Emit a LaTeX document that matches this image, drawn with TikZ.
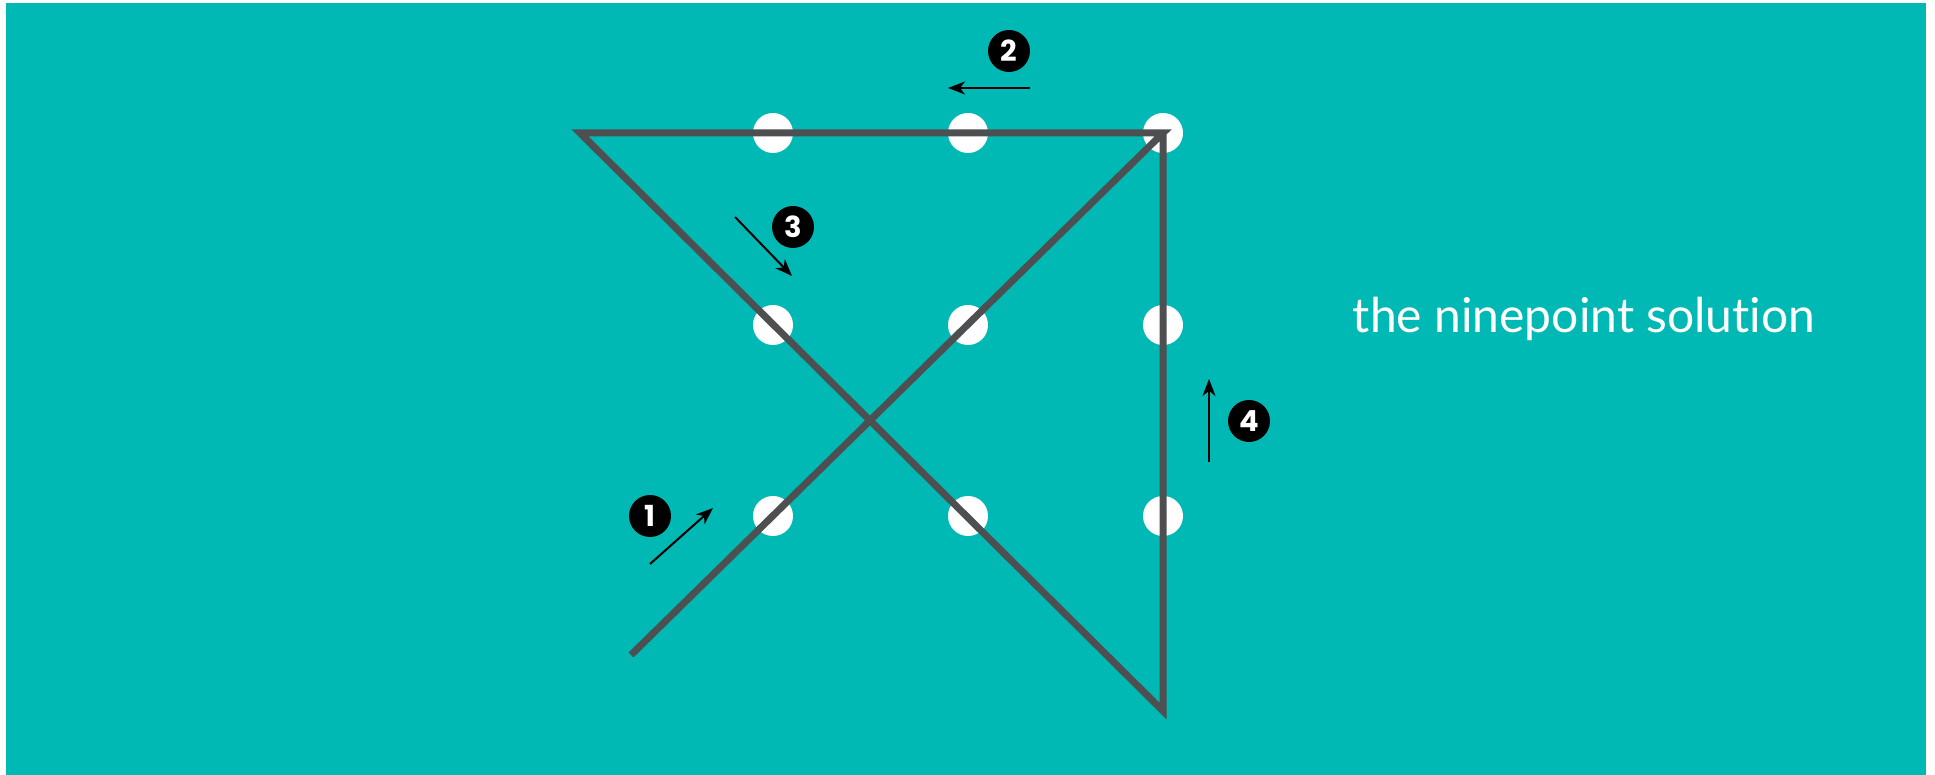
\documentclass[tikz,border=0pt]{standalone}
\usepackage{xcolor}
\usepackage{fontspec}
\setmainfont{Lato}[Ligatures=NoCommon]
\newfontfamily\badgefont{Poppins}
\usepackage{tikz}
\usetikzlibrary{arrows.meta, positioning}

\definecolor{puzzlebg}{RGB}{0,185,180}
\definecolor{pencil}{RGB}{77,79,81}

\begin{document}
\begin{tikzpicture}[x=1pt, y=1pt, node distance=195pt, on grid,
        dot/.style={circle, fill=white, minimum size=40pt, inner sep=0pt},
        badge/.style={circle, fill=black, text=white, minimum size=42pt, inner sep=0pt,
            font=\badgefont\bfseries\fontsize{29}{29}\selectfont},
        hint/.style={-{Stealth[length=17pt, width=13pt, inset=5pt]}, line width=2pt},
        trail/.style={draw=pencil, line width=7pt, line join=miter}]
        \useasboundingbox (0,0) rectangle (1935,775);
        \fill[puzzlebg] (6,0) rectangle (1926,772);

        % the nine points
        \node[dot] (d11) at (773,642) {};
        \node[dot] (d12) [right=of d11] {};
        \node[dot] (d13) [right=of d12] {};
        \node[dot] (d21) [below=192pt of d11] {};
        \node[dot] (d22) [right=of d21] {};
        \node[dot] (d23) [right=of d22] {};
        \node[dot] (d31) [below=191pt of d21] {};
        \node[dot] (d32) [right=of d31] {};
        \node[dot] (d33) [right=of d32] {};

        % the four strokes
        \coordinate (start) at (631,120);
        \coordinate (tl) at (580,642);
        \coordinate (br) at (1163,64);
        \draw[trail] (start) -- (d13.center) -- (tl) -- (br) -- (d13.center);

        % numbered hints
        \node[badge] (b1) at (650,259) {1};
        \node[badge] (b2) at (1009,724) {2};
        \node[badge] (b3) at (793,548) {3};
        \node[badge] (b4) at (1249,354) {4};

        \coordinate (a1s) at (650,211);
        \coordinate (a1e) at (713,267);
        \coordinate (a2s) at (1030,687);
        \coordinate (a2e) at (948,687);
        \coordinate (a3s) at (735,558);
        \coordinate (a3e) at (792,499);
        \coordinate (a4s) at (1209,313);
        \coordinate (a4e) at (1209,396);

        \path[hint]
        (a1s) edge (a1e)
        (a2s) edge (a2e)
        (a3s) edge (a3e)
        (a4s) edge (a4e);

        \node[anchor=base, text=white, font=\fontsize{48}{52}\selectfont] (title) at (1584,442) {the ninepoint solution};
    \end{tikzpicture}
\end{document}
